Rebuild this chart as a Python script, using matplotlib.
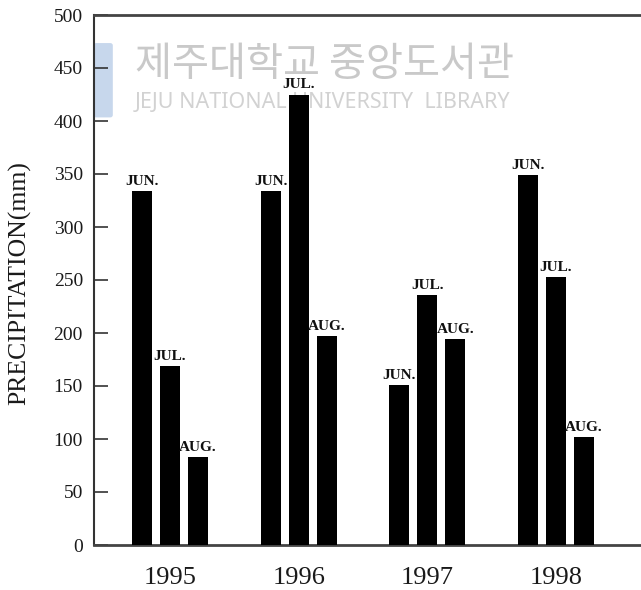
import numpy as np
import matplotlib
matplotlib.use("Agg")
import matplotlib.pyplot as plt
from matplotlib.patches import FancyBboxPatch

# du lieu
years = ["1995", "1996", "1997", "1998"]
months = ["JUN.", "JUL.", "AUG."]
jun = [334, 334, 151, 349]
jul = [169, 425, 236, 253]
aug = [83, 197, 194, 102]

fig = plt.figure(figsize=(6.41, 5.9), dpi=100)
ax = fig.add_axes([94 / 641, 45 / 590, 547 / 641, 530 / 590])
ax.set_zorder(1)
ax.patch.set_alpha(0)

# watermark (scan), nam duoi cac cot
fig.patches.append(FancyBboxPatch((0.150, 0.805), 0.022, 0.118, boxstyle="round,pad=0.004",
                                  transform=fig.transFigure, fc="#b9cde8", ec="none", alpha=0.8, zorder=0))
fig.text(0.21, 0.89, "제주대학교 중앙도서관", family=["Noto Sans CJK KR", "DejaVu Sans"],
         fontsize=29, color="#c9c9c9", va="center", ha="left", zorder=0)
fig.text(0.21, 0.826, "JEJU NATIONAL UNIVERSITY  LIBRARY", family="Noto Sans",
         fontsize=15.5, color="#d2d2d2", va="center", ha="left", zorder=0)

x = np.arange(len(years))
w = 0.155
off = 0.217
for vals, dx, lab in zip([jun, jul, aug], [-off, 0, off], months):
    bars = ax.bar(x + dx, vals, width=w, color="black", zorder=3)
    for b in bars:
        ax.text(b.get_x() + b.get_width() / 2, b.get_height() + 3, lab,
                ha="center", va="bottom", fontsize=11, fontweight="bold",
                family="Liberation Serif", color="#111", zorder=4)

ax.set_xlim(-0.59, 3.66)
ax.set_ylim(0, 500)
ax.set_yticks(np.arange(0, 501, 50))
ax.set_xticks(x)
ax.set_xticklabels(years, family="Liberation Serif", fontsize=19, color="#1a1a1a")
for t in ax.get_yticklabels():
    t.set_family("Liberation Serif")
    t.set_fontsize(14)
    t.set_color("#1a1a1a")
ax.tick_params(axis="y", direction="in", length=10, width=1.2, pad=8, color="#333")
ax.tick_params(axis="x", length=0, pad=16)

ax.spines["right"].set_visible(False)
ax.spines["top"].set_linewidth(2)
ax.spines["top"].set_color("#444")
ax.spines["left"].set_linewidth(1.5)
ax.spines["left"].set_color("#333")
ax.spines["bottom"].set_linewidth(2)
ax.spines["bottom"].set_color("#444")

ax.set_ylabel("PRECIPITATION(mm)", family="Liberation Serif", fontsize=18.5, color="#1a1a1a")
ax.yaxis.set_label_coords(-0.115, 0.495)

plt.savefig("out.png", dpi=100)
